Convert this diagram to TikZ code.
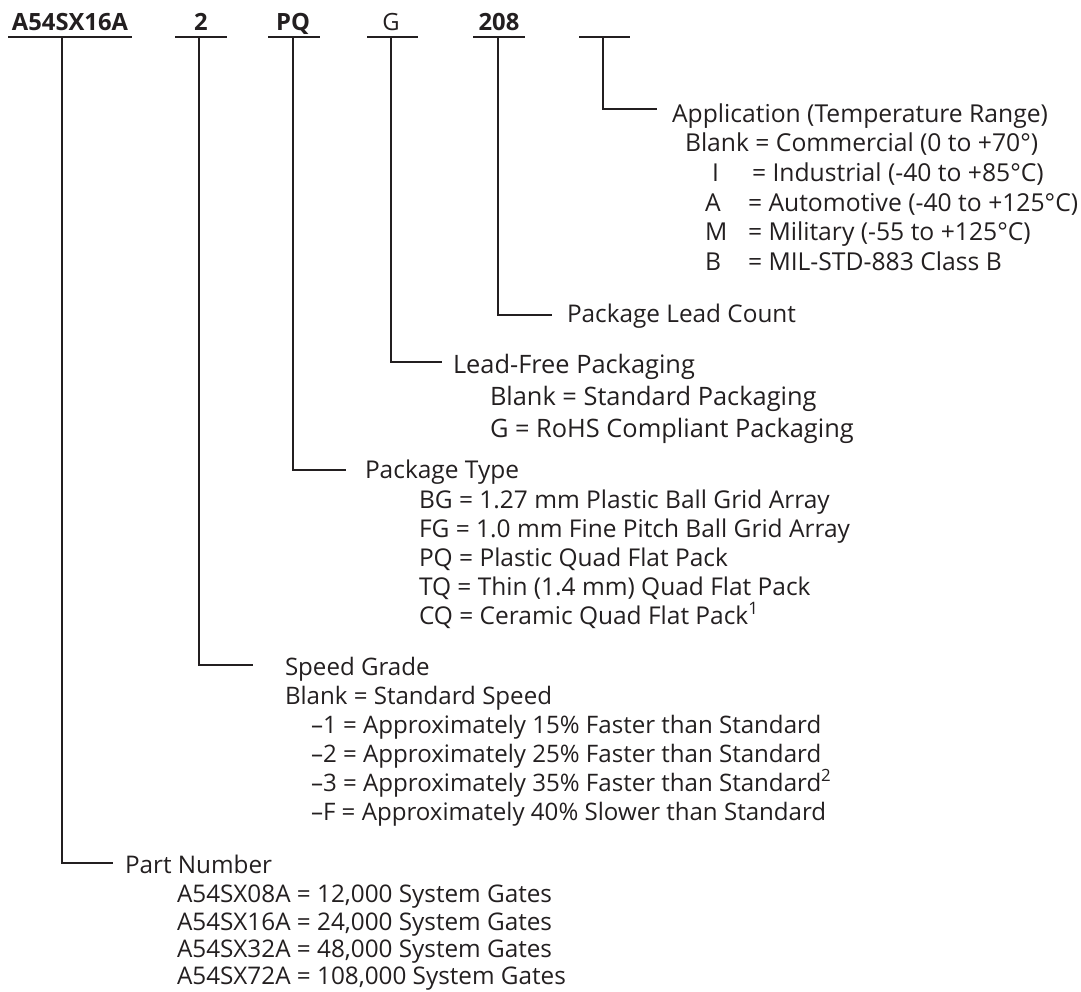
\documentclass[tikz,border=0pt]{standalone}
\usepackage{fontspec}
\setmainfont{Open Sans}
\definecolor{ink}{RGB}{35,31,32}
\newlength\fitlen
\newcommand\fitto[3]{\settowidth\fitlen{\fontsize{10pt}{12pt}\selectfont #2}\pgfmathsetmacro\tmpfs{10*#3/\fitlen}\global\let#1\tmpfs}
\newcommand\fitbold[3]{\settowidth\fitlen{\fontsize{10pt}{12pt}\selectfont\bfseries #2}\pgfmathsetmacro\tmpfs{10*#3/\fitlen}\global\let#1\tmpfs}
\newcommand\fsel[1]{\fontsize{#1 pt}{#1 pt}\selectfont}
\AtBeginDocument{%
\fitto\fsA{Application (Temperature Range)}{376}%
\fitto\fsL{Package Lead Count}{229}%
\fitto\fsF{Lead-Free Packaging}{242}%
\fitto\fsP{FG = 1.0 mm Fine Pitch Ball Grid Array}{431}%
\fitto\fsS{Blank = Standard Speed}{267}%
\fitto\fsN{A54SX08A = 12,000 System Gates}{375}%
\fitbold\fsH{A54SX16A}{116}%
}
\begin{document}
\begin{tikzpicture}[x=1pt,y=-1pt,ink,line width=2pt]
\tikzset{
  lbl/.style={anchor=base west, inner sep=0pt, outer sep=0pt, text=ink},
  hdr/.style={anchor=base, inner sep=0pt, outer sep=0pt, text=ink, font=\fsel\fsH\bfseries},
  hdrreg/.style={anchor=base, inner sep=0pt, outer sep=0pt, text=ink, font=\fsel\fsH},
  uline/.style={line width=2.4pt},
  conn/.style={line width=2pt},
  gA/.style={lbl, font=\fsel\fsA},
  gL/.style={lbl, font=\fsel\fsL},
  gF/.style={lbl, font=\fsel\fsF},
  gP/.style={lbl, font=\fsel\fsP},
  gS/.style={lbl, font=\fsel\fsS},
  gN/.style={lbl, font=\fsel\fsN},
}
\path[use as bounding box] (0,0) rectangle (1081,992);

% header codes
\node[hdr] (h1) at (70,31) {A54SX16A};
\node[hdr] (h2) at (201,31) {2};
\node[hdr] (h3) at (293,31) {PQ};
\node[hdrreg] (h4) at (391,31) {G};
\node[hdr] (h5) at (499,31) {208};

% underlines
\coordinate (u1a) at (8,37);   \coordinate (u1b) at (132,37);
\coordinate (u2a) at (175,37); \coordinate (u2b) at (227,37);
\coordinate (u3a) at (268,37); \coordinate (u3b) at (320,37);
\coordinate (u4a) at (367,37); \coordinate (u4b) at (418,37);
\coordinate (u5a) at (473,37); \coordinate (u5b) at (525,37);
\coordinate (u6a) at (579,37); \coordinate (u6b) at (630,37);
\foreach \i in {1,...,6} {\draw[uline] (u\i a) -- (u\i b);}

% tee points and elbow ends
\coordinate (t1) at (62,37);  \coordinate (f1) at (113,863);
\coordinate (t2) at (199,37); \coordinate (f2) at (253,665);
\coordinate (t3) at (293,37); \coordinate (f3) at (346,470);
\coordinate (t4) at (391,37); \coordinate (f4) at (442,362);
\coordinate (t5) at (498,37); \coordinate (f5) at (552,315);
\coordinate (t6) at (603,37); \coordinate (f6) at (657,109);
\foreach \i in {1,...,6} {\draw[conn] (t\i) |- (f\i);}

% Application
\node[gA] (a0) at (672,123) {Application (Temperature Range)};
\node[gA] (a1) at (685,152) {Blank = Commercial (0 to +70°)};
\node[gA] (a2k) at (712,182) {I};
\node[gA] (a2) at (752,182) {= Industrial (-40 to +85°C)};
\node[gA] (a3k) at (705,212) {A};
\node[gA] (a3) at (748,212) {= Automotive (-40 to +125°C)};
\node[gA] (a4k) at (705,241) {M};
\node[gA] (a4) at (748,241) {= Military (-55 to +125°C)};
\node[gA] (a5k) at (705,270) {B};
\node[gA] (a5) at (748,270) {= MIL-STD-883 Class B};

% Lead count
\node[gL] (l0) at (567,322) {Package Lead Count};

% Lead-free
\node[gF] (p0) at (453,373) {Lead-Free Packaging};
\node[gF] (p1) at (490,405) {Blank = Standard Packaging};
\node[gF] (p2) at (490,437) {G = RoHS Compliant Packaging};

% Package type
\node[gP] (k0) at (365,478) {Package Type};
\node[gP] (k1) at (419,508) {BG = 1.27 mm Plastic Ball Grid Array};
\node[gP] (k2) at (419,537) {FG = 1.0 mm Fine Pitch Ball Grid Array};
\node[gP] (k3) at (419,566) {PQ = Plastic Quad Flat Pack};
\node[gP] (k4) at (419,595) {TQ = Thin (1.4 mm) Quad Flat Pack};
\node[gP] (k5) at (419,624) {CQ = Ceramic Quad Flat Pack\textsuperscript{1}};

% Speed grade
\node[gS] (s0) at (285,675) {Speed Grade};
\node[gS] (s1) at (285,704) {Blank = Standard Speed};
\node[gS] (s2) at (311,733) {–1 = Approximately 15\% Faster than Standard};
\node[gS] (s3) at (311,762) {–2 = Approximately 25\% Faster than Standard};
\node[gS] (s4) at (311,791) {–3 = Approximately 35\% Faster than Standard\textsuperscript{2}};
\node[gS] (s5) at (311,820) {–F = Approximately 40\% Slower than Standard};

% Part number
\node[gN] (n0) at (125,873) {Part Number};
\node[gN] (n1) at (177,902) {A54SX08A = 12,000 System Gates};
\node[gN] (n2) at (177,930) {A54SX16A = 24,000 System Gates};
\node[gN] (n3) at (177,957) {A54SX32A = 48,000 System Gates};
\node[gN] (n4) at (177,984) {A54SX72A = 108,000 System Gates};
\end{tikzpicture}
\end{document}
